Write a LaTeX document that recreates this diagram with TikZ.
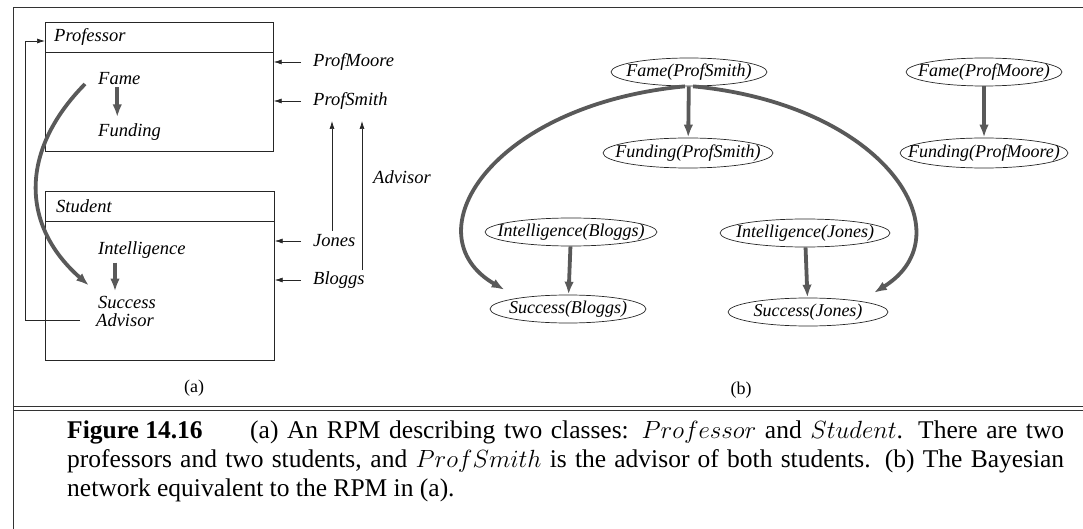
\documentclass[tikz,border=0pt]{standalone}
\usepackage{fontspec}
\setmainfont{Liberation Serif}
\usetikzlibrary{arrows.meta,shapes.geometric,calc}
\begin{document}
\begin{tikzpicture}[x=1pt,y=-1pt,
  frame/.style={line width=0.8pt,draw=black!80},
  thin/.style={line width=0.7pt,draw=black!85},
  thinarr/.style={thin,-{Latex[length=8pt,width=5pt]}},
  fat/.style={line width=3.8pt,draw=black!65,-{Latex[length=13pt,width=9.5pt]}},
  lbl/.style={font=\fontsize{18.5}{21}\selectfont\itshape,inner sep=1pt},
  bn/.style={ellipse,draw=black!85,line width=0.7pt,inner sep=0pt,font=\fontsize{18}{21}\selectfont\itshape},
  captext/.style={font=\fontsize{25.5}{29}\selectfont,inner sep=0pt},
  sub/.style={font=\fontsize{18}{21}\selectfont,inner sep=1pt}]
\useasboundingbox (0,0) rectangle (1083,529);
% outer frame
\draw[frame] (1083,7) -- (13,7) -- (13,529);
\draw[frame] (13,406) -- (1083,406);
\draw[frame] (13,410) -- (1083,410);
% ---------- (a) ----------
\node[thin,draw,anchor=north west,minimum width=228pt,minimum height=129pt,inner sep=0pt] (pbox) at (45,22) {};
\draw[thin] (45,52) -- (273,52);
\node[lbl,anchor=west] (ptitle) at (53,37) {Professor};
\node[thin,draw,anchor=north west,minimum width=229pt,minimum height=169pt,inner sep=0pt] (sbox) at (45,191) {};
\draw[thin] (45,221) -- (274,221);
\node[lbl,anchor=west] (stitle) at (55,206) {Student};
\node[lbl,anchor=west] (fame) at (97,79) {Fame};
\node[lbl,anchor=west] (funding) at (97,132) {Funding};
\node[lbl,anchor=west] (intel) at (97,250) {Intelligence};
\node[lbl,anchor=west] (success) at (97,302) {Success};
\node[lbl,anchor=west] (advisor) at (95,320) {Advisor};
\node[lbl,anchor=west] (profmoore) at (312,62) {ProfMoore};
\node[lbl,anchor=west] (profsmith) at (312,101) {ProfSmith};
\node[lbl,anchor=west] (jones) at (312,241) {Jones};
\node[lbl,anchor=west] (bloggs) at (312,280) {Bloggs};
\node[lbl,anchor=west] (advlbl) at (372,177) {Advisor};
\node[sub] (suba) at (194,388) {(a)};
% arrows into boxes
\draw[thinarr] ($(profmoore.west)+(-11,0)$) -- (profmoore.west -| pbox.east);
\draw[thinarr] ($(profsmith.west)+(-11,0)$) -- (profsmith.west -| pbox.east);
\draw[thinarr] ($(jones.west)+(-11,0)$) -- (jones.west -| sbox.east);
\draw[thinarr] ($(bloggs.west)+(-11,0)$) -- (bloggs.west -| sbox.east);
% advisor relation arrows
\coordinate (a1b) at (332,231);
\coordinate (a1t) at (332,121);
\coordinate (a2b) at (362,270);
\coordinate (a2t) at (362,121);
\draw[thinarr] (a1b) -- (a1t);
\draw[thinarr] (a2b) -- (a2t);
% advisor loop
\coordinate (loopc) at (25,320);
\coordinate (pin) at (45,41);
\draw[thinarr] ($(advisor.west)+(-15,0)$) -- (loopc) |- (pin);
% dependency arrows in (a)
\draw[fat] ($(fame.south)+(-2,1)$) -- ($(fame.south)+(-2,31)$);
\draw[fat] ($(intel.south west)+(18,3)$) -- ($(intel.south west)+(18,32)$);
\draw[fat] ($(fame.west)+(-12,5)$) .. controls (20,150) and (20,225) .. ($(success.north west)+(-8,-9)$);
% ---------- (b) ----------
\node[bn,minimum width=156pt,minimum height=28pt] (fps) at (689,72) {\makebox[0pt]{Fame(ProfSmith)}};
\node[bn,minimum width=170pt,minimum height=30pt] (fups) at (688,153) {\makebox[0pt]{Funding(ProfSmith)}};
\node[bn,minimum width=156pt,minimum height=28pt] (fpm) at (984,72) {\makebox[0pt]{Fame(ProfMoore)}};
\node[bn,minimum width=168pt,minimum height=30pt] (fupm) at (984,153) {\makebox[0pt]{Funding(ProfMoore)}};
\node[bn,minimum width=172pt,minimum height=28pt] (ib) at (571,232) {\makebox[0pt]{Intelligence(Bloggs)}};
\node[bn,minimum width=170pt,minimum height=28pt] (ij) at (805,233) {\makebox[0pt]{Intelligence(Jones)}};
\node[bn,minimum width=156pt,minimum height=28pt] (sb) at (568,309) {\makebox[0pt]{Success(Bloggs)}};
\node[bn,minimum width=160pt,minimum height=28pt] (sj) at (808,312) {\makebox[0pt]{Success(Jones)}};
\node[sub] (subb) at (741,390) {(b)};
\draw[fat] (fps) -- (fups);
\draw[fat] (fpm) -- (fupm);
\draw[fat] (ib) -- (sb);
\draw[fat] (ij) -- (sj);
\draw[fat] (fps.254) .. controls (490,105) and (410,235) .. ($(sb.north west)+(-8,-9)$);
\draw[fat] (fps.286) .. controls (887,105) and (967,235) .. ($(sj.north east)+(9,-9)$);
% ---------- caption ----------
\node[captext,anchor=base west] (figno) at (67,438) {\textbf{Figure 14.16}};
\node[captext,anchor=base west] (cap1) at (250,438) {\makebox[814pt][s]{(a) An RPM describing two classes: $Professor$ and $Student$. There are two}};
\node[captext,anchor=base west] (cap2) at (67,467) {\makebox[997pt][s]{professors and two students, and $ProfSmith$ is the advisor of both students. (b) The Bayesian}};
\node[captext,anchor=base west] (cap3) at (67,496) {network equivalent to the RPM in (a).};
\end{tikzpicture}
\end{document}
